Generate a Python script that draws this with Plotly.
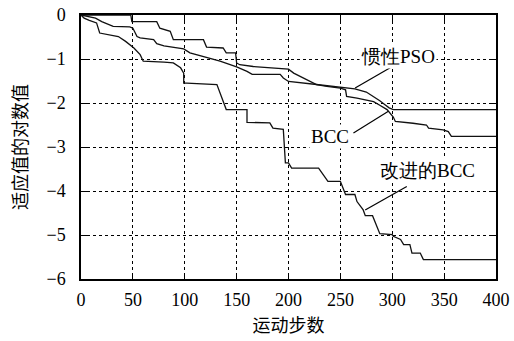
import plotly.graph_objects as go

# Improved BCC
ibcc_x = [0, 3, 8, 15, 18, 27, 36, 43, 51, 57, 60, 80, 89, 96, 99, 99, 102, 131, 134, 137, 140, 160, 160, 182, 185, 195, 197, 200, 203, 229, 238, 250, 255, 264, 266, 272, 274, 281, 285, 288, 300, 301, 308, 311, 317, 319, 327, 330, 400]
ibcc_y = [0, -0.07, -0.12, -0.18, -0.41, -0.45, -0.49, -0.6, -0.75, -0.9, -1.05, -1.07, -1.09, -1.2, -1.32, -1.55, -1.55, -1.58, -1.77, -2.0, -2.15, -2.15, -2.44, -2.45, -2.57, -2.6, -3.36, -3.36, -3.48, -3.48, -3.78, -3.78, -4.08, -4.08, -4.24, -4.43, -4.56, -4.56, -4.8, -4.97, -4.99, -5.03, -5.1, -5.22, -5.22, -5.41, -5.41, -5.56, -5.56]

# BCC
bcc_x = [0, 48, 49, 73, 76, 86, 89, 118, 121, 137, 140, 149, 150, 153, 166, 184, 200, 205, 211, 215, 221, 227, 237, 250, 255, 256, 266, 282, 288, 295, 301, 303, 320, 333, 335, 344, 349, 354, 357, 400]
bcc_y = [0, 0, -0.15, -0.15, -0.3, -0.37, -0.56, -0.56, -0.73, -0.75, -0.86, -0.86, -1.09, -1.13, -1.17, -1.2, -1.23, -1.32, -1.39, -1.43, -1.51, -1.58, -1.62, -1.66, -1.7, -1.85, -1.89, -1.97, -2.05, -2.15, -2.32, -2.42, -2.46, -2.5, -2.57, -2.6, -2.61, -2.65, -2.76, -2.76]

# Inertia PSO
pso_x = [0, 7, 14, 20, 27, 31, 47, 50, 54, 57, 70, 73, 80, 99, 105, 125, 134, 150, 160, 165, 192, 195, 200, 227, 250, 264, 275, 282, 288, 293, 297, 301, 400]
pso_y = [0, -0.03, -0.07, -0.15, -0.22, -0.26, -0.27, -0.3, -0.49, -0.52, -0.56, -0.65, -0.7, -0.77, -0.86, -0.98, -1.05, -1.18, -1.28, -1.35, -1.35, -1.43, -1.51, -1.58, -1.64, -1.68, -1.75, -1.85, -1.95, -2.04, -2.11, -2.15, -2.15]

x_ticks = [0, 50, 100, 150, 200, 250, 300, 350, 400]
y_ticks = [0, -1, -2, -3, -4, -5, -6]

labels = ["惯性PSO", "BCC", "改进的BCC"]
label_x = [306, 240, 334]
label_y = [-0.95, -2.77, -3.54]
leader_x0 = [298, 262.6, 314]
leader_y0 = [-1.20, -2.68, -3.9]
leader_x1 = [264.2, 296.3, 273.9]
leader_y1 = [-1.66, -2.19, -4.43]

SERIF = "Liberation Serif"
CJK = "Noto Sans CJK SC"
LC = "#111111"

fig = go.Figure()
for xs, ys in [(pso_x, pso_y), (bcc_x, bcc_y), (ibcc_x, ibcc_y)]:
    fig.add_trace(go.Scatter(x=xs, y=ys, mode="lines", line=dict(color=LC, width=1.3), showlegend=False))

for i in range(3):
    fig.add_shape(type="line", x0=leader_x0[i], y0=leader_y0[i], x1=leader_x1[i], y1=leader_y1[i],
                  xref="x", yref="y", line=dict(color="black", width=1.2))
    fig.add_annotation(x=label_x[i], y=label_y[i], text=labels[i], showarrow=False,
                       font=dict(family=SERIF, size=19, color="black"), bgcolor="white",
                       xref="x", yref="y")

axis_common = dict(showline=True, linecolor="black", linewidth=1.5, mirror="ticks",
                   ticks="inside", ticklen=6, tickcolor="black", tickwidth=1.2,
                   showgrid=True, gridcolor="black", gridwidth=1, griddash="dot",
                   zeroline=False, automargin=False,
                   tickfont=dict(family=SERIF, size=18, color="black"))

fig.update_xaxes(range=[0, 400], tickvals=x_ticks, ticklabelstandoff=4, **axis_common,
                 title=dict(text="运动步数", font=dict(family=CJK, size=18, color="black"), standoff=10))
fig.update_yaxes(range=[-6, 0], tickvals=y_ticks, ticklabelstandoff=10, **axis_common,
                 title=dict(text="适应值的对数值", font=dict(family=CJK, size=18, color="black"), standoff=14))

fig.update_layout(width=514, height=341, margin=dict(l=81, r=18, t=15, b=62),
                  font=dict(family=SERIF),
                  plot_bgcolor="white", paper_bgcolor="white")

fig.write_html("out.html", config={"displayModeBar": False},
               post_script="document.body.style.margin='0';document.body.style.overflow='hidden';")
